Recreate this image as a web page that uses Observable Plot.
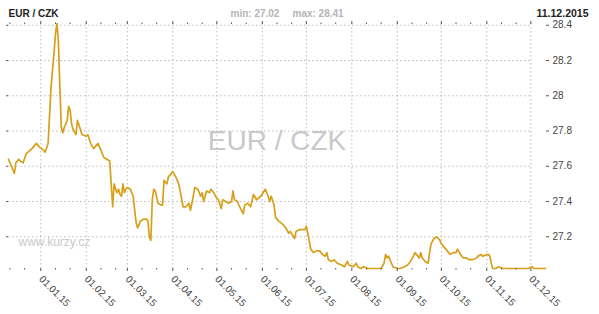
<!DOCTYPE html>
<html><head><meta charset="utf-8">
<script src="https://cdn.jsdelivr.net/npm/d3@7"></script>
<script src="https://cdn.jsdelivr.net/npm/@observablehq/plot@0.6"></script>
<style>
body{margin:0;background:#fff;}
#chart svg{display:block;}
</style></head><body><div id="chart"></div>
<script>
const title = "EUR / CZK";
const dateLabel = "11.12.2015";
const site = "www.kurzy.cz";

const dates = [
"2014-12-10","2014-12-12","2014-12-14","2014-12-15","2014-12-17","2014-12-18","2014-12-20","2014-12-22","2014-12-26","2014-12-29","2014-12-31",
"2015-01-03","2015-01-04","2015-01-06","2015-01-08","2015-01-10","2015-01-11","2015-01-12","2015-01-13","2015-01-14","2015-01-15","2015-01-16","2015-01-17","2015-01-18","2015-01-19","2015-01-20","2015-01-21","2015-01-22","2015-01-23","2015-01-25","2015-01-26","2015-01-28","2015-01-29",
"2015-02-01","2015-02-02","2015-02-04","2015-02-06","2015-02-07","2015-02-09","2015-02-11","2015-02-13","2015-02-15","2015-02-17","2015-02-18","2015-02-19","2015-02-20","2015-02-21","2015-02-22","2015-02-23","2015-02-24","2015-02-25","2015-02-26","2015-02-27","2015-02-28",
"2015-03-01","2015-03-03","2015-03-05","2015-03-06","2015-03-07","2015-03-08","2015-03-10","2015-03-12","2015-03-14","2015-03-15","2015-03-16","2015-03-17","2015-03-18","2015-03-19","2015-03-20","2015-03-22","2015-03-24","2015-03-25","2015-03-26","2015-03-28","2015-03-29",
"2015-04-01","2015-04-03","2015-04-05","2015-04-06","2015-04-08","2015-04-10","2015-04-12","2015-04-13","2015-04-14","2015-04-16","2015-04-18","2015-04-20","2015-04-21","2015-04-22","2015-04-24","2015-04-26","2015-04-27","2015-04-29","2015-04-30",
"2015-05-02","2015-05-04","2015-05-05","2015-05-07","2015-05-09","2015-05-11","2015-05-12","2015-05-13","2015-05-15","2015-05-16","2015-05-19","2015-05-20","2015-05-22","2015-05-24","2015-05-26","2015-05-28","2015-05-31",
"2015-06-03","2015-06-05","2015-06-06","2015-06-07","2015-06-09","2015-06-10","2015-06-12","2015-06-15","2015-06-17","2015-06-19","2015-06-20","2015-06-23","2015-06-24","2015-06-26","2015-06-28","2015-06-30",
"2015-07-01","2015-07-02","2015-07-04","2015-07-06","2015-07-08","2015-07-10","2015-07-12","2015-07-14","2015-07-15","2015-07-16","2015-07-18","2015-07-20","2015-07-22","2015-07-25","2015-07-27","2015-07-29","2015-07-30",
"2015-08-02","2015-08-04","2015-08-05","2015-08-07","2015-08-09","2015-08-12","2015-08-15","2015-08-19","2015-08-21","2015-08-23","2015-08-24","2015-08-25","2015-08-26","2015-08-28","2015-08-29",
"2015-09-01","2015-09-03","2015-09-06","2015-09-08","2015-09-10","2015-09-12","2015-09-13","2015-09-15","2015-09-16","2015-09-17","2015-09-18","2015-09-19","2015-09-20","2015-09-22","2015-09-23","2015-09-24","2015-09-26","2015-09-28","2015-09-30",
"2015-10-01","2015-10-03","2015-10-05","2015-10-07","2015-10-09","2015-10-11","2015-10-12","2015-10-14","2015-10-16","2015-10-18","2015-10-20","2015-10-22","2015-10-25","2015-10-26","2015-10-28","2015-10-29",
"2015-11-02","2015-11-03","2015-11-04","2015-11-05","2015-11-07","2015-11-09","2015-11-12","2015-11-15","2015-11-19","2015-11-24","2015-11-29",
"2015-12-02","2015-12-03","2015-12-06","2015-12-08","2015-12-11"
];
const rates = [
27.64,27.60,27.56,27.62,27.64,27.63,27.62,27.67,27.70,27.73,27.71,
27.69,27.68,27.73,28.05,28.24,28.35,28.41,28.31,28.05,27.82,27.79,27.82,27.84,27.86,27.94,27.92,27.84,27.81,27.78,27.86,27.81,27.78,
27.77,27.78,27.73,27.70,27.71,27.73,27.69,27.65,27.64,27.63,27.50,27.37,27.50,27.47,27.45,27.47,27.44,27.43,27.50,27.45,27.47,
27.48,27.47,27.43,27.35,27.28,27.25,27.29,27.30,27.30,27.29,27.20,27.18,27.41,27.47,27.46,27.39,27.38,27.38,27.52,27.50,27.54,
27.57,27.54,27.50,27.46,27.37,27.37,27.39,27.35,27.39,27.48,27.47,27.43,27.45,27.40,27.46,27.45,27.47,27.45,27.43,
27.41,27.36,27.41,27.40,27.39,27.40,27.46,27.41,27.40,27.38,27.33,27.38,27.39,27.37,27.44,27.41,27.43,
27.47,27.43,27.40,27.43,27.38,27.31,27.29,27.27,27.25,27.22,27.23,27.19,27.23,27.24,27.24,27.24,
27.26,27.22,27.13,27.11,27.12,27.12,27.10,27.09,27.11,27.07,27.06,27.07,27.05,27.04,27.03,27.06,27.04,
27.03,27.05,27.03,27.02,27.03,27.02,27.02,27.02,27.02,27.05,27.10,27.08,27.09,27.05,27.03,
27.02,27.02,27.03,27.04,27.06,27.09,27.11,27.09,27.08,27.11,27.08,27.07,27.06,27.05,27.11,27.16,27.19,27.20,27.18,
27.16,27.14,27.12,27.10,27.11,27.11,27.13,27.10,27.08,27.08,27.07,27.07,27.08,27.09,27.10,27.09,
27.10,27.09,27.05,27.02,27.02,27.03,27.02,27.02,27.02,27.02,27.02,
27.03,27.02,27.02,27.02,27.02
];

const monthTicks = ["2015-01-01","2015-02-01","2015-03-01","2015-04-01","2015-05-01","2015-06-01","2015-07-01","2015-08-01","2015-09-01","2015-10-01","2015-11-01","2015-12-01"];
const minorTicks = ["2014-12-11","2014-12-21","2015-01-11","2015-01-21","2015-02-11","2015-02-21","2015-03-11","2015-03-21","2015-04-11","2015-04-21","2015-05-11","2015-05-21","2015-06-11","2015-06-21","2015-07-11","2015-07-21","2015-08-11","2015-08-21","2015-09-11","2015-09-21","2015-10-11","2015-10-21","2015-11-11","2015-11-21"];
const yTicks = [27.2, 27.4, 27.6, 27.8, 28, 28.2, 28.4];
const xDomain = ["2014-12-10", "2015-12-11"];

const parse = d3.utcParse("%Y-%m-%d");
const data = dates.map((d, i) => ({date: parse(d), rate: rates[i]}));
const [minRate, maxRate] = d3.extent(rates);
const fmt2 = d3.format(".2f");
const font = "Arial, 'Liberation Sans', sans-serif";
const months = monthTicks.map(parse);
const minors = minorTicks.map(parse);
const gridStart = parse(xDomain[0]);
const gridEnd = months[months.length - 1];

const chart = Plot.plot({
  width: 599, height: 314,
  marginTop: 23, marginRight: 54, marginBottom: 46, marginLeft: 8,
  style: {fontFamily: font, background: "#fff", overflow: "visible"},
  x: {type: "utc", domain: xDomain.map(parse)},
  y: {domain: [minRate, maxRate]},
  marks: [
    Plot.ruleX(months, {stroke: "#bdbdbd", strokeDasharray: "1.5,2.5"}),
    Plot.ruleY(yTicks, {x1: () => gridStart, x2: () => gridEnd, stroke: "#bdbdbd", strokeDasharray: "1.5,2.5"}),
    Plot.text([title], {frameAnchor: "middle", dy: -5, fontSize: 28, fill: "#c9c9c9"}),
    Plot.text([site], {frameAnchor: "bottom-left", dx: 10, dy: -23, textAnchor: "start", fontSize: 12, fill: "#c9c9c9"}),
    Plot.line(data, {x: "date", y: "rate", stroke: "#d6a01a", strokeWidth: 1.7}),
    Plot.axisX({anchor: "bottom", ticks: months, tickSize: 3, tickPadding: 6, tickRotate: 45, tickFormat: d3.utcFormat("%d.%m.%y"), fontSize: 10, fill: "#444", stroke: "#555", label: null}),
    Plot.axisX({anchor: "bottom", ticks: minors, tickSize: 1.5, fill: "none", stroke: "#555", label: null}),
    Plot.axisX({anchor: "top", ticks: months, tickSize: 3, fill: "none", stroke: "#555", label: null}),
    Plot.axisX({anchor: "top", ticks: minors, tickSize: 1.5, fill: "none", stroke: "#555", label: null}),
    Plot.axisY({anchor: "right", ticks: yTicks, tickSize: 3, tickPadding: 4, fontSize: 10, fill: "#444", stroke: "#555", label: null, tickFormat: d => String(d)}),
    Plot.axisY({anchor: "left", ticks: yTicks, tickSize: 2, fill: "none", stroke: "#555", label: null}),
    Plot.text([title], {frameAnchor: "top-left", dy: -9.5, textAnchor: "start", lineAnchor: "middle", fontSize: 10, fontWeight: "bold", fill: "#222"}),
    Plot.text(["min: " + fmt2(minRate)], {frameAnchor: "top-left", dx: 222, dy: -9.5, textAnchor: "start", lineAnchor: "middle", fontSize: 10, fontWeight: "bold", fill: "#b5b5b5"}),
    Plot.text(["max: " + fmt2(maxRate)], {frameAnchor: "top-left", dx: 284, dy: -9.5, textAnchor: "start", lineAnchor: "middle", fontSize: 10, fontWeight: "bold", fill: "#b5b5b5"}),
    Plot.text([dateLabel], {frameAnchor: "top-right", dx: 43, dy: -9.5, textAnchor: "end", lineAnchor: "middle", fontSize: 10.5, fontWeight: "bold", fill: "#222"})
  ]
});
document.getElementById("chart").appendChild(chart);
</script></body></html>
